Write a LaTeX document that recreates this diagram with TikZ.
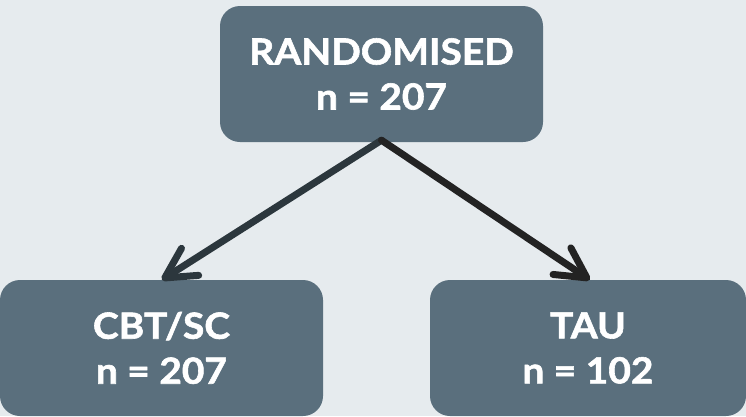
\documentclass[tikz,border=0pt]{standalone}
\usepackage{fontspec}
\setmainfont{Lato}[BoldFeatures={FakeBold=1.6, FakeStretch=1.08}]
\usetikzlibrary{arrows.meta,calc}
\definecolor{pagebg}{HTML}{E6EBEE}
\definecolor{boxfill}{HTML}{5A6F7D}
\definecolor{arrowA}{HTML}{2C373D}
\definecolor{arrowB}{HTML}{232323}
\tikzset{
  groupbox/.style={fill=boxfill, rounded corners=20pt, minimum height=136pt,
    inner sep=0pt, align=center, text=white,
    font=\bfseries\fontsize{36}{45}\selectfont},
  flow/.style={line width=7pt, line cap=round,
    -{Straight Barb[length=30pt,width=32pt,line cap=round,line join=round]}}
}
\begin{document}
\begin{tikzpicture}[x=1pt,y=-1pt]
  \fill[pagebg] (0,0) rectangle (746,416);
  \useasboundingbox (0,0) rectangle (746,416);

  \node[groupbox, minimum width=323pt] (rand) at (381.5,74) {RANDOMISED\\n = 207};
  \node[groupbox, minimum width=323pt] (cbt)  at (161.5,348) {CBT/SC\\n = 207};
  \node[groupbox, minimum width=316pt] (tau)  at (588,348) {TAU\\n = 102};

  \coordinate (fork) at ($(rand.south)+(0,-2)$);
  \coordinate (tipL) at ($(cbt.north west)+(162,0)$);
  \coordinate (tipR) at ($(tau.north west)+(160,0)$);

  \draw[flow, arrowA] (fork) -- (tipL);
  \draw[flow, arrowB] (fork) -- (tipR);
\end{tikzpicture}
\end{document}
